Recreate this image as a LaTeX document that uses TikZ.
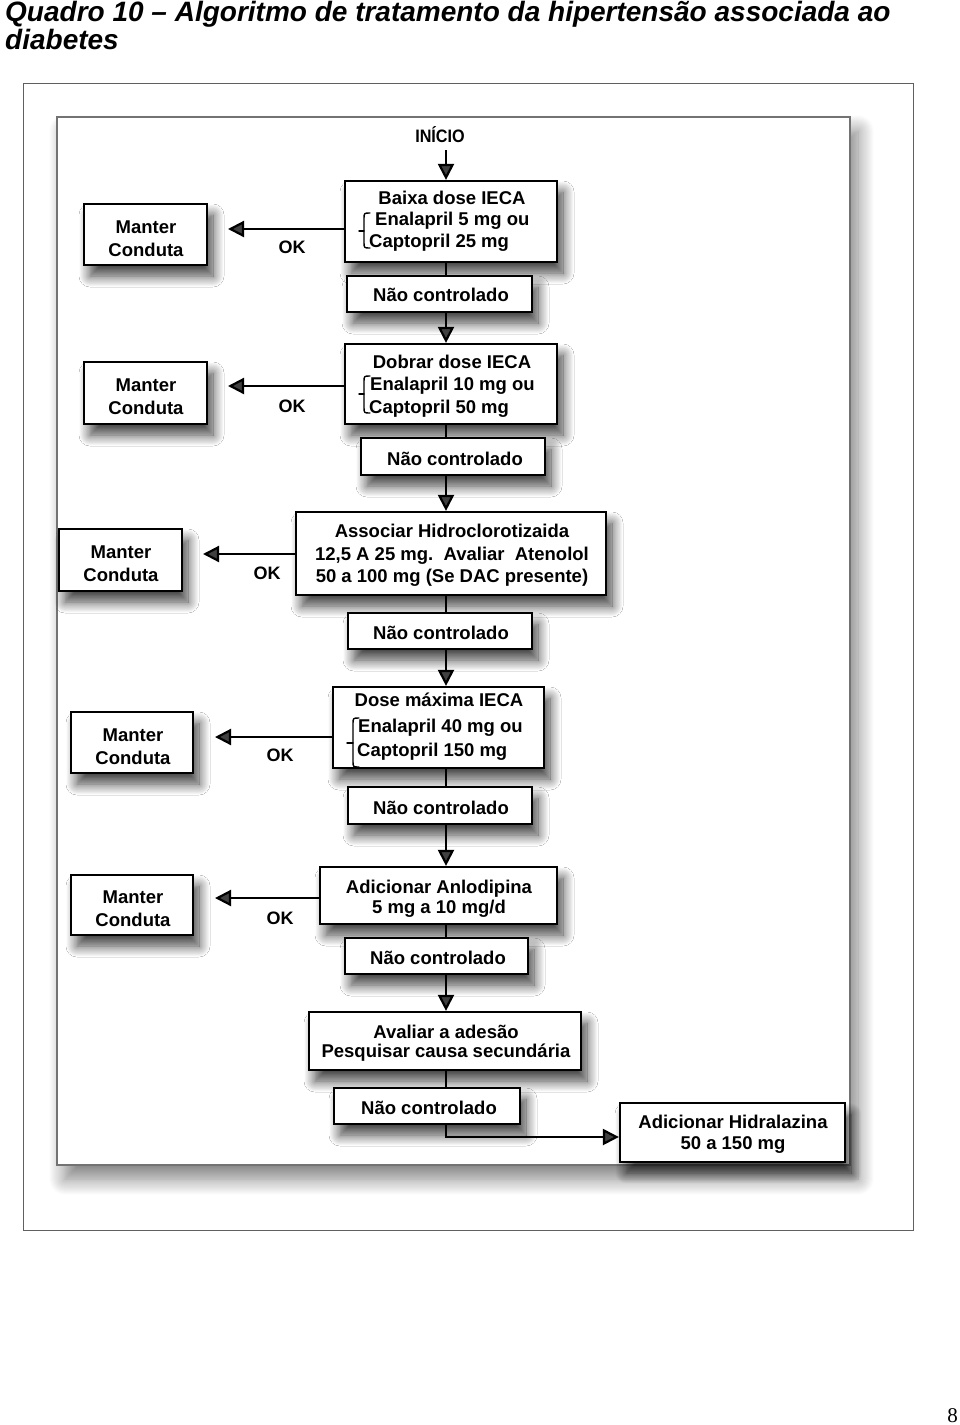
\documentclass[tikz,border=0pt]{standalone}
\usepackage{fontspec}
\setmainfont{Liberation Sans}
\newfontfamily\serifnum{Liberation Serif}
\usetikzlibrary{arrows.meta,shadows.blur}

\tikzset{
  box/.style={draw=black, line width=2.2pt, fill=white, inner sep=0pt,
    blur shadow={shadow xshift=6pt, shadow yshift=-11pt, shadow blur radius=11pt, shadow opacity=75, shadow blur steps=14}},
  txt/.style={inner sep=0pt, anchor=base, font=\fontsize{18.5}{20}\selectfont\bfseries},
  txtl/.style={txt, anchor=base west},
  oklbl/.style={inner sep=0pt, anchor=base, font=\fontsize{18}{20}\selectfont\bfseries},
  arr/.style={line width=2.2pt, -{Triangle[length=16pt,width=16pt]}},
  conn/.style={line width=2.2pt},
  brc/.style={line width=1.4pt, line cap=round, line join=round},
}

\begin{document}
\begin{tikzpicture}[x=1pt,y=-1pt]
\useasboundingbox (0,0) rectangle (960,1425);

% title
\node[inner sep=0pt, anchor=base west, font=\fontsize{28}{30}\selectfont\bfseries\itshape] (title1) at (5,21) {Quadro 10 – Algoritmo de tratamento da hipertensão associada ao};
\node[inner sep=0pt, anchor=base west, font=\fontsize{28}{30}\selectfont\bfseries\itshape] (title2) at (5,49) {diabetes};

% frames
\draw[gray!75!black, line width=1pt] (23,83) rectangle (913,1230);
\path[draw=gray!90!black, line width=2pt, fill=white,
  blur shadow={shadow xshift=8pt, shadow yshift=-14pt, shadow blur radius=16pt, shadow opacity=50, shadow blur steps=16}]
  (57,117) rectangle (850,1165);

\coordinate (xc) at (446,0);

% start
\node[oklbl] (inicio) at (440,142) {\scalebox{0.9}[1]{INÍCIO}};
\coordinate (st) at (446,150);

% main column boxes
\node[box, minimum width=212pt, minimum height=81pt] (b1) at (451,221.5) {};
\node[box, minimum width=185pt, minimum height=36pt] (nc1) at (439.5,294) {};
\node[box, minimum width=212pt, minimum height=80pt] (b2) at (451,384) {};
\node[box, minimum width=184pt, minimum height=37pt] (nc2) at (453,456.5) {};
\node[box, minimum width=310pt, minimum height=83pt] (b3) at (451,553.5) {};
\node[box, minimum width=184pt, minimum height=36pt] (nc3) at (440,631) {};
\node[box, minimum width=211pt, minimum height=81pt] (b4) at (438.5,727.5) {};
\node[box, minimum width=184pt, minimum height=37pt] (nc4) at (440,805.5) {};
\node[box, minimum width=237pt, minimum height=57pt] (b5) at (438.5,895.5) {};
\node[box, minimum width=183pt, minimum height=36pt] (nc5) at (436.5,956) {};
\node[box, minimum width=272pt, minimum height=58pt] (b6) at (445,1041) {};
\node[box, minimum width=186pt, minimum height=36pt] (nc6) at (427,1106) {};
\node[box, minimum width=225pt, minimum height=59pt] (b7) at (732.5,1132.5) {};

% Manter Conduta boxes
\node[box, minimum width=123pt, minimum height=61pt] (m1) at (145.5,234.5) {};
\node[box, minimum width=123pt, minimum height=62pt] (m2) at (145.5,393) {};
\node[box, minimum width=123pt, minimum height=62pt] (m3) at (120.5,560) {};
\node[box, minimum width=122pt, minimum height=61pt] (m4) at (132,742.5) {};
\node[box, minimum width=122pt, minimum height=60pt] (m5) at (132,905) {};

% texts: main boxes
\node[txt] (b1a) at (452,204) {Baixa dose IECA};
\node[txtl] (b1b) at (375,225) {Enalapril 5 mg ou};
\node[txtl] (b1c) at (369,247) {Captopril 25 mg};

\node[txt] (b2a) at (452,368) {Dobrar dose IECA};
\node[txtl] (b2b) at (370,390) {Enalapril 10 mg ou};
\node[txtl] (b2c) at (369,413) {Captopril 50 mg};

\node[txt] (b3a) at (452,537) {Associar Hidroclorotizaida};
\node[txt] (b3b) at (452,560) {12,5 A 25 mg.\ \ Avaliar\ \ Atenolol};
\node[txt] (b3c) at (452,582) {50 a 100 mg (Se DAC presente)};

\node[txt] (b4a) at (439,706) {Dose máxima IECA};
\node[txtl] (b4b) at (358,732) {Enalapril 40 mg ou};
\node[txtl] (b4c) at (357,756) {Captopril 150 mg};

\node[txt] (b5a) at (439,893) {Adicionar Anlodipina};
\node[txt] (b5b) at (439,913) {5 mg a 10 mg/d};

\node[txt] (b6a) at (446,1038) {Avaliar a adesão};
\node[txt] (b6b) at (446,1057) {Pesquisar causa secundária};

\node[txt] (b7a) at (733,1128) {Adicionar Hidralazina};
\node[txt] (b7b) at (733,1149) {50 a 150 mg};

% Nao controlado texts
\node[txt] (nc1t) at (441,301) {Não controlado};
\node[txt] (nc2t) at (455,465) {Não controlado};
\node[txt] (nc3t) at (441,639) {Não controlado};
\node[txt] (nc4t) at (441,814) {Não controlado};
\node[txt] (nc5t) at (438,964) {Não controlado};
\node[txt] (nc6t) at (429,1114) {Não controlado};

% Manter Conduta texts
\node[txt] (m1a) at (146,233) {Manter};
\node[txt] (m1b) at (146,256) {Conduta};
\node[txt] (m2a) at (146,391) {Manter};
\node[txt] (m2b) at (146,414) {Conduta};
\node[txt] (m3a) at (121,558) {Manter};
\node[txt] (m3b) at (121,581) {Conduta};
\node[txt] (m4a) at (133,741) {Manter};
\node[txt] (m4b) at (133,764) {Conduta};
\node[txt] (m5a) at (133,903) {Manter};
\node[txt] (m5b) at (133,926) {Conduta};

% OK labels
\node[oklbl] (ok1) at (292,253) {OK};
\node[oklbl] (ok2) at (292,412) {OK};
\node[oklbl] (ok3) at (267,579) {OK};
\node[oklbl] (ok4) at (280,761) {OK};
\node[oklbl] (ok5) at (280,924) {OK};

% braces
\draw[brc] (370,213) .. controls (364,213) .. (364,219) -- (364,242) .. controls (364,248) .. (370,248);
\draw[brc] (359,231) -- (364,231);
\draw[brc] (370,376) .. controls (364,376) .. (364,382) -- (364,407) .. controls (364,413) .. (370,413);
\draw[brc] (359,394) -- (364,394);
\draw[brc] (359,718) .. controls (353,718) .. (353,724) -- (353,761) .. controls (353,767) .. (359,767);
\draw[brc] (347,743) -- (353,743);

% vertical connectors
\draw[arr] (st) -- (xc |- b1.north);
\draw[conn] (xc |- b1.south) -- (xc |- nc1.north);
\draw[arr] (xc |- nc1.south) -- (xc |- b2.north);
\draw[conn] (xc |- b2.south) -- (xc |- nc2.north);
\draw[arr] (xc |- nc2.south) -- (xc |- b3.north);
\draw[conn] (xc |- b3.south) -- (xc |- nc3.north);
\draw[arr] (xc |- nc3.south) -- (xc |- b4.north);
\draw[conn] (xc |- b4.south) -- (xc |- nc4.north);
\draw[arr] (xc |- nc4.south) -- (xc |- b5.north);
\draw[conn] (xc |- b5.south) -- (xc |- nc5.north);
\draw[arr] (xc |- nc5.south) -- (xc |- b6.north);
\draw[conn] (xc |- b6.south) -- (xc |- nc6.north);
\coordinate (t7) at (446,1137);
\draw[arr] (xc |- nc6.south) -- (t7) -- (b7.west |- t7);

% left arrows
\coordinate (t1) at (228,229);
\coordinate (t2) at (228,386);
\coordinate (t3) at (203,554);
\coordinate (t4) at (215,737);
\coordinate (t5) at (215,898);
\draw[arr] (b1.west |- t1) -- (t1);
\draw[arr] (b2.west |- t2) -- (t2);
\draw[arr] (b3.west |- t3) -- (t3);
\draw[arr] (b4.west |- t4) -- (t4);
\draw[arr] (b5.west |- t5) -- (t5);

% page number
\node[inner sep=0pt, anchor=base east, font=\serifnum\fontsize{21}{24}\selectfont] (pg) at (958,1422) {8};
\end{tikzpicture}
\end{document}
